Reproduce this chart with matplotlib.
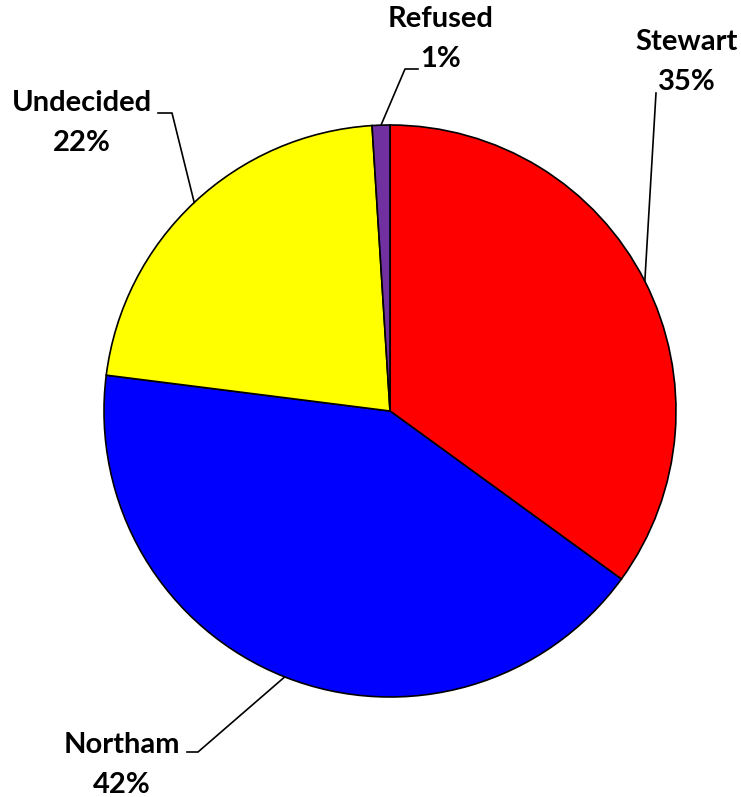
#!/usr/bin/env python3

import numpy as np
import matplotlib.pyplot as plt

# poll results
names = ['Stewart', 'Northam', 'Undecided', 'Refused']
shares = [35, 42, 22, 1]
colors = ['#FF0000', '#0000FF', '#FFFF00', '#7030A0']

# figure geometry in pixels (pie centre + radius)
W, H = 741, 797
cx, cy, R = 390, 411, 286

def px(x, y):
    # pixel -> data coords (radius = 1)
    return (x - cx) / R, (cy - y) / R

# label layout: (text centre, elbow, end of leader) in pixels
layout = {
    'Stewart':   ((687, 62),  (656, 93),  (656, 93)),
    'Northam':   ((122, 765), (198, 752), (187, 752)),
    'Undecided': ((82, 123),  (172, 113), (158, 113)),
    'Refused':   ((441, 39),  (405, 69),  (418, 69)),
}

fig = plt.figure(figsize=(W/100, H/100), dpi=100)
ax = fig.add_axes([0, 0, 1, 1])
wedges, _ = ax.pie(shares, colors=colors, startangle=90, counterclock=False,
                   radius=1, wedgeprops=dict(edgecolor='black', linewidth=1.2))
ax.set_xlim(px(0, 0)[0], px(W, 0)[0])
ax.set_ylim(px(0, H)[1], px(0, 0)[1])
ax.set_aspect('equal')
ax.axis('off')

for w, name, s in zip(wedges, names, shares):
    mid = np.deg2rad((w.theta1 + w.theta2) / 2)
    x0, y0 = np.cos(mid), np.sin(mid)
    (tx, ty), elbow, end = layout[name]
    ex, ey = px(*elbow)
    fx, fy = px(*end)
    ax.plot([x0, ex, fx], [y0, ey, fy], color='black', lw=1.2)
    ax.text(*px(tx, ty), '{}\n{}%'.format(name, s), ha='center', va='center',
            fontsize=21, fontweight='bold', family='Lato', linespacing=1.62)

plt.savefig('out.png', dpi=100)
